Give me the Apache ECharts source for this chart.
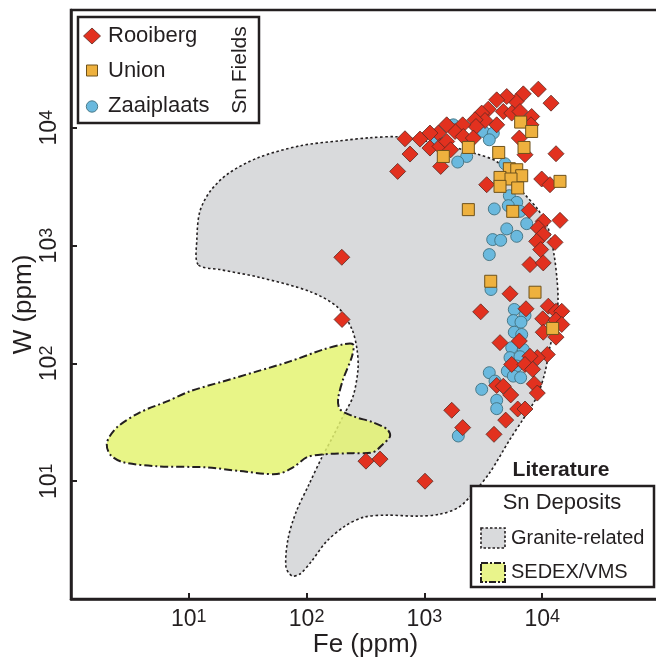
<!DOCTYPE html>
<html><head><meta charset="utf-8">
<script src="https://cdn.jsdelivr.net/npm/echarts@6/dist/echarts.min.js"></script>
<style>html,body{margin:0;padding:0;background:#fff}#c{width:656px;height:661px}</style>
</head><body><div id="c"></div>
<script>
// ---- data (Fe ppm, W ppm) ----
const rooiberg = [
[9270,21280],[11880,16190],[6915,19410],[5995,16710],[5000,18420],[4110,17270],[3485,14390],[3065,13330],
[4675,13740],[5510,13330],[6475,13740],[8140,12470],[4110,10600],[3270,11530],[2690,11690],[2740,10260],
[2114,10600],[1820,9310],[1546,10600],[1312,9020],[1115,9020],[918,8020],[684,8070],[755,5985],[1115,6730],
[1356,6945],[1546,7650],[1672,6510],[1375,4700],[2140,8440],[2600,8180],[6395,8180],[7145,5905],[8030,10600],
[13100,6025],[593,4265],[3380,3288],[9905,3675],[11650,3288],[7765,1991],[10210,1607],[14160,1638],[9270,1413],
[10210,1240],[12850,1066],[8980,1087],[9710,925],[7875,690],[10210,713],[199,796],[200,236],[5330,390],
[3005,274],[7285,291],[11270,306],[13100,277],[14650,277],[10100,239],[13100,233],[14650,214],[10210,184],
[13100,167],[6395,155],[4385,150],[11050,119],[9085,112],[7875,115],[5510,98],[7145,98],[8305,89],[4110,65],
[4675,64],[8570,67],[9085,56],[5405,54],[6195,41],[7145,41],[4900,33],[1706,40],[2114,28.5],[3897,25],
[319,14.8],[420,15.4],[1012,10]
];
const union = [
[6565,11180],[8140,9310],[7010,6810],[2360,6810],[4275,6175],[1447,5710],[5260,4495],[6080,4405],[6700,3920],
[4385,3790],[5435,3675],[4385,3183],[6195,3085],[14160,3510],[2360,2020],[5620,1953],[3655,498],[8690,402],
[12270,198]
];
const zaaiplaats = [
[1760,10600],[3160,9310],[3845,9020],[3555,7910],[1271,7910],[2286,5710],[1918,5120],[4833,4955],[5260,2653],
[6080,2328],[5155,2183],[3920,2048],[6475,1953],[7385,1536],[5000,1386],[6080,1199],[3800,1125],[4443,1109],
[3555,839],[3675,424],[5795,287],[7145,255],[5685,231],[6605,224],[5795,184],[6700,176],[5510,136],[6915,131],
[5330,112],[6475,114],[6080,95],[5055,86],[5685,78],[6565,75.7],[3555,83.4],[3975,70.8],[3065,60.2],[4110,48.6],
[4110,41.3],[1940,24.2]
];
// literature fields (outline vertices, Fe ppm, W ppm)
const graniteField = [
[12.0,690],[11.7,1125],[12.4,1941],[15.1,2870],[21.5,4075],[38.7,5570],[87.9,7035],[192,7760],[345,8230],
[585,8390],[1012,7760],[1715,6900],[2740,6025],[4130,5150],[5540,3625],[7145,2705],[9210,2020],[11200,1422],
[12600,839],[13360,515],[13620,349],[13100,214],[11650,139],[10560,83.9],[9040,52.5],[6870,33.5],[5330,22.7],
[3605,11.9],[2637,8.07],[1967,6.02],[1356,5.25],[865,5.05],[482,5.15],[307,4.95],[212,4.16],[146,3.04],
[109,2.06],[87.9,1.63],[75.2,1.57],[66.8,1.87],[69.5,3.22],[81.3,5.46],[105,9.43],[135,16.0],[168,24.1],
[204,35.6],[248,52.5],[273,89],[268,131],[243,194],[185,298],[107,407],[40.2,536],[18.4,626]
];
const sedexField = [
[248,145],[204,145],[138,131],[72.3,104],[37.9,85.5],[19.5,70.3],[10.2,57.9],[6.53,47.6],[3.85,38.4],
[2.46,28.7],[2.02,21.4],[2.14,16.9],[2.76,14.5],[5.37,13.4],[14.3,13.1],[27.2,12.2],[56.1,11.5],[76.7,13.1],
[101,16.0],[138,16.9],[248,17.3],[366,17.6],[445,20.6],[511,24.1],[482,27.6],[366,31.6],[248,35.6],[192,40.8],
[185,49.5],[204,73.1],[243,115]
];
const seriesNames = ['Rooiberg','Union','Zaaiplaats'];
const fieldNames = ['Granite-related','SEDEX/VMS'];

const INK = '#231f20';
const FONT = '"Liberation Sans", Arial, Helvetica, sans-serif';
const RED = '#e2311f', ORANGE = '#eeb13e', BLUE = '#6ab9de';
const GRAY = '#d9dadc', YELLOW = 'rgba(228,243,112,0.84)', YELLOW_SW = '#e9f48b';

function fieldSeries(name, pts, style) {
  return {
    type: 'custom', name, coordinateSystem: 'cartesian2d', data: pts,
    encode: {x: 0, y: 1}, silent: true, animation: false,
    renderItem: function (params, api) {
      if (params.dataIndex !== 0) return null;
      const points = pts.map(p => api.coord(p));
      return {type: 'polygon', shape: {points: points, smooth: 0.3}, style: style};
    }
  };
}

function supFmt(v) {
  const e = Math.round(Math.log10(v));
  return '{b|10}{s|' + e + '}';
}
const labelRich = {
  b: {fontSize: 23, fontFamily: FONT, color: INK},
  s: {fontSize: 18, fontFamily: FONT, color: INK, verticalAlign: 'top'}
};

const axisCommon = {
  type: 'log', logBase: 10, min: 1, max: 100000, splitNumber: 5,
  nameLocation: 'middle', nameMoveOverlap: false,
  nameTextStyle: {fontSize: 26, fontFamily: FONT, color: INK},
  axisLine: {show: true, lineStyle: {color: INK, width: 2.5}},
  axisTick: {show: true, inside: true, length: 6, lineStyle: {color: INK, width: 2}},
  splitLine: {show: false},
  minorTick: {show: false}
};

const chart = echarts.init(document.getElementById('c'), null, {renderer: 'canvas'});
chart.setOption({
  animation: false,
  backgroundColor: '#fff',
  grid: {left: 71, top: 10, width: 589, height: 589, show: true, borderColor: INK, borderWidth: 2.5,
         containLabel: false, outerBoundsMode: 'none'},
  xAxis: Object.assign({}, axisCommon, {
    name: 'Fe (ppm)', nameGap: 33,
    axisLabel: {showMinLabel: false, showMaxLabel: false, margin: 9, formatter: supFmt, rich: labelRich}
  }),
  yAxis: Object.assign({}, axisCommon, {
    name: 'W (ppm)', nameGap: 34, nameRotate: 90,
    axisLabel: {showMinLabel: false, showMaxLabel: false, margin: 10, rotate: 90, formatter: supFmt, rich: labelRich}
  }),
  series: [
    fieldSeries(fieldNames[0], graniteField, {fill: GRAY, stroke: INK, lineWidth: 1.6, lineDash: [2.5, 2.5]}),
    fieldSeries(fieldNames[1], sedexField, {fill: YELLOW, stroke: INK, lineWidth: 2, lineDash: [8, 3, 2, 3]}),
    {type: 'scatter', name: seriesNames[2], data: zaaiplaats, symbol: 'circle', symbolSize: 12,
     itemStyle: {color: BLUE, borderColor: '#41707f', borderWidth: 0.9, opacity: 1}},
    {type: 'scatter', name: seriesNames[0], data: rooiberg, symbol: 'diamond', symbolSize: 16,
     itemStyle: {color: RED, borderColor: '#5a2a22', borderWidth: 0.8, opacity: 1}},
    {type: 'scatter', name: seriesNames[1], data: union, symbol: 'rect', symbolSize: 12,
     itemStyle: {color: ORANGE, borderColor: '#6e521c', borderWidth: 1, opacity: 1}}
  ],
  graphic: [
    // Sn Fields legend
    {type: 'rect', z: 100, shape: {x: 78, y: 17, width: 181, height: 106}, style: {fill: '#fff', stroke: INK, lineWidth: 2.5}},
    {type: 'polygon', z: 101, shape: {points: [[92,28],[100.5,36],[92,44],[83.5,36]]}, style: {fill: RED, stroke: '#5a2a22', lineWidth: 0.8}},
    {type: 'rect', z: 101, shape: {x: 86.5, y: 65, width: 11, height: 11}, style: {fill: ORANGE, stroke: '#6e521c', lineWidth: 1}},
    {type: 'circle', z: 101, shape: {cx: 92, cy: 106.5, r: 5.7}, style: {fill: BLUE, stroke: '#41707f', lineWidth: 0.9}},
    {type: 'text', z: 101, x: 108, y: 36, style: {text: seriesNames[0], fontSize: 22, fontFamily: FONT, fill: INK, verticalAlign: 'middle'}},
    {type: 'text', z: 101, x: 108, y: 70.5, style: {text: seriesNames[1], fontSize: 22, fontFamily: FONT, fill: INK, verticalAlign: 'middle'}},
    {type: 'text', z: 101, x: 108, y: 106, style: {text: seriesNames[2], fontSize: 22, fontFamily: FONT, fill: INK, verticalAlign: 'middle'}},
    {type: 'text', z: 101, x: 240, y: 70, rotation: Math.PI / 2, style: {text: 'Sn Fields', fontSize: 21, fontFamily: FONT, fill: INK, align: 'center', verticalAlign: 'middle'}},
    // Literature legend
    {type: 'text', z: 101, x: 561, y: 470, style: {text: 'Literature', fontSize: 21, fontWeight: 'bold', fontFamily: FONT, fill: INK, align: 'center', verticalAlign: 'middle'}},
    {type: 'rect', z: 100, shape: {x: 471, y: 486, width: 183, height: 101}, style: {fill: '#fff', stroke: INK, lineWidth: 2.5}},
    {type: 'text', z: 101, x: 562, y: 503, style: {text: 'Sn Deposits', fontSize: 22, fontFamily: FONT, fill: INK, align: 'center', verticalAlign: 'middle'}},
    {type: 'rect', z: 101, shape: {x: 481, y: 528, width: 24, height: 20}, style: {fill: GRAY, stroke: INK, lineWidth: 1.6, lineDash: [2.5, 2]}},
    {type: 'rect', z: 101, shape: {x: 481, y: 563, width: 24, height: 19}, style: {fill: YELLOW_SW, stroke: INK, lineWidth: 2, lineDash: [7, 2, 2, 2]}},
    {type: 'text', z: 101, x: 511, y: 538, style: {text: fieldNames[0], fontSize: 20, fontFamily: FONT, fill: INK, verticalAlign: 'middle'}},
    {type: 'text', z: 101, x: 511, y: 572.5, style: {text: fieldNames[1], fontSize: 20, fontFamily: FONT, fill: INK, verticalAlign: 'middle'}}
  ]
});
</script></body></html>
